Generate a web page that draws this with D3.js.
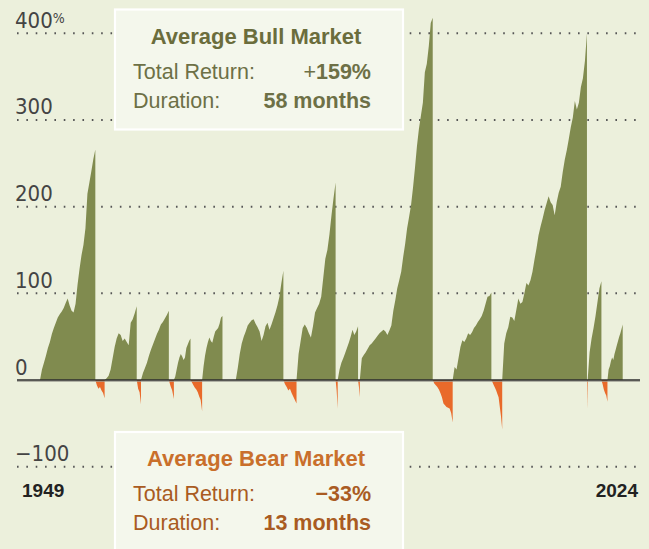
<!DOCTYPE html>
<html>
<head>
<meta charset="utf-8">
<script src="https://cdn.jsdelivr.net/npm/d3@7"></script>
<style>
  body { margin: 0; background: #ecf0dc; }
  svg { display: block; }
</style>
</head>
<body>
<div id="chart"></div>
<script>
// bull markets: start / end (decimal year), cumulative return (%) sampled evenly over each run
const bullStart = [1949.45, 1957.8, 1962.5, 1966.75, 1970.4, 1974.75, 1982.6, 1987.92, 1990.78, 2002.78, 2009.18, 2020.22, 2022.78];
const bullEnd   = [1956.6, 1961.95, 1966.1, 1968.9, 1973.03, 1980.9, 1987.65, 1990.55, 2000.2, 2007.78, 2020.13, 2022.0, 2024.75];
const bullValues = [
  [0, 12, 20, 28, 37, 44, 53, 60, 66, 72, 76, 79, 83, 89, 94, 86, 80, 78, 88, 110, 128, 144, 156, 175, 215, 228, 241, 255, 266],
  [0, 2, 5, 12, 25, 38, 48, 54, 52, 45, 48, 44, 40, 66, 70, 77, 85],
  [0, 8, 14, 20, 28, 35, 41, 47, 53, 58, 64, 67, 71, 75, 80],
  [0, 4, 12, 20, 26, 30, 27, 23, 26, 37, 41, 45, 48],
  [0, 16, 28, 37, 44, 49, 45, 43, 50, 56, 58, 60, 65, 72, 74],
  [0, 14, 30, 42, 50, 56, 63, 66, 69, 70, 65, 61, 56, 45, 52, 62, 66, 58, 64, 71, 78, 86, 96, 112, 126],
  [0, 30, 45, 60, 64, 60, 54, 49, 62, 78, 83, 88, 96, 118, 140, 150, 168, 190, 210, 228],
  [0, 12, 20, 25, 31, 37, 43, 50, 58, 52, 56, 62],
  [0, 25, 29, 32, 36, 40, 42, 45, 48, 51, 54, 56, 58, 56, 52, 57, 63, 80, 92, 106, 115, 125, 142, 157, 175, 188, 202, 222, 245, 270, 290, 305, 320, 355, 365, 385, 412, 418],
  [0, 15, 12, 25, 38, 46, 44, 48, 54, 52, 55, 60, 63, 67, 70, 74, 80, 88, 96, 97, 101],
  [0, 42, 54, 61, 73, 72, 68, 81, 94, 88, 90, 100, 112, 109, 115, 125, 139, 152, 167, 177, 186, 196, 204, 212, 205, 202, 190, 205, 216, 223, 240, 254, 265, 278, 292, 303, 322, 312, 320, 338, 348, 368, 400],
  [0, 32, 48, 60, 74, 90, 106, 114],
  [0, 12, 16, 22, 26, 23, 30, 35, 40, 45, 50, 54, 59, 64]
];

// bear markets (1973-74 is not drawn in the original)
const bearStart = [1956.6, 1961.95, 1966.1, 1968.9, 1980.9, 1987.65, 1990.55, 2000.2, 2007.78, 2020.13, 2022.0];
const bearEnd   = [1957.8, 1962.5, 1966.75, 1970.4, 1982.6, 1987.92, 1990.78, 2002.78, 2009.18, 2020.22, 2022.78];
const bearValues = [
  [0, -6, -10, -8, -12, -15, -21],
  [0, -10, -14, -28],
  [0, -7, -12, -22],
  [0, -3, -6, -9, -11, -14, -19, -23, -36],
  [0, -5, -8, -12, -10, -15, -19, -23, -27],
  [0, -12, -33],
  [0, -8, -20],
  [0, -4, -6, -8, -11, -15, -20, -27, -29, -31, -32, -33, -38, -49],
  [0, -3, -6, -9, -12, -16, -20, -31, -42, -57],
  [0, -34],
  [0, -5, -11, -15, -18, -25]
];

const gridTicks = [400, 300, 200, 100, -100];
const labelTicks = [400, 300, 200, 100, 0, -100];
const yearLabels = ["1949", "2024"];

const bullBox = { title: "Average Bull Market", ret: ["+", "159%"], dur: "58 months" };
const bearBox = { title: "Average Bear Market", ret: ["", "\u221233%"], dur: "13 months" };

const W = 649, H = 549;
const svg = d3.select("#chart").append("svg")
    .attr("width", W)
    .attr("height", H);

svg.append("rect").attr("width", W).attr("height", H).attr("fill", "#ecf0dc");

const x = d3.scaleLinear()
    .domain([1949.45, 2024.75])
    .range([40, 622.7]);

const y = d3.scaleLinear()
    .domain([-100, 400])
    .range([466.7, 33.3]);

const gridLeft = 17, gridRight = 640;

// dotted gridlines
svg.append("g")
  .selectAll("line")
  .data(gridTicks)
  .join("line")
    .attr("x1", gridLeft)
    .attr("x2", gridRight)
    .attr("y1", d => y(d))
    .attr("y2", d => y(d))
    .attr("stroke", "#555")
    .attr("stroke-width", 2)
    .attr("stroke-dasharray", "1.6,7.75");

// turn start/end/values into point lists
function toPoints(start, end, vals) {
  const n = vals.length - 1;
  return vals.map((v, i) => ({ t: start + (end - start) * i / n, v: v }));
}

const area = d3.area()
    .x(d => x(d.t))
    .y0(y(0))
    .y1(d => y(d.v));

const bulls = bullValues.map((vals, i) => toPoints(bullStart[i], bullEnd[i], vals));
const bears = bearValues.map((vals, i) => toPoints(bearStart[i], bearEnd[i], vals));

svg.append("g")
  .selectAll("path")
  .data(bulls)
  .join("path")
    .attr("d", area)
    .attr("fill", "#808b4f");

svg.append("g")
  .selectAll("path")
  .data(bears)
  .join("path")
    .attr("d", area)
    .attr("fill", "#e96a2a");

// zero line
svg.append("line")
    .attr("x1", gridLeft).attr("x2", gridRight)
    .attr("y1", y(0) + 1.2).attr("y2", y(0) + 1.2)
    .attr("stroke", "#9a9a90").attr("stroke-width", 1);
svg.append("line")
    .attr("x1", gridLeft).attr("x2", gridRight)
    .attr("y1", y(0)).attr("y2", y(0))
    .attr("stroke", "#2e2e2e").attr("stroke-width", 1.6);

// tick labels
const tl = svg.append("g")
    .attr("font-family", "'Liberation Sans Narrow', 'DejaVu Sans Condensed', sans-serif")
    .attr("font-size", 22)
    .attr("fill", "#444");

labelTicks.forEach(d => {
  const t = tl.append("text")
      .attr("x", 15)
      .attr("y", y(d) - 5.5)
      .text(d < 0 ? "\u2212" + Math.abs(d) : d);
  if (d === 400) t.append("tspan").attr("font-size", 14).attr("dy", -5).text("%");
});

// year labels
svg.append("g")
    .attr("font-family", "'Liberation Sans', Arial, sans-serif")
    .attr("font-weight", "bold")
    .attr("font-size", 19)
    .attr("fill", "#222")
  .selectAll("text")
  .data(yearLabels)
  .join("text")
    .attr("x", (d, i) => i === 0 ? 22 : 638)
    .attr("text-anchor", (d, i) => i === 0 ? "start" : "end")
    .attr("y", 497)
    .text(d => d);

// info boxes
function infoBox(b, top, titleColor, bodyColor) {
  const g = svg.append("g")
      .attr("font-family", "'Liberation Sans', Arial, sans-serif");
  g.append("rect")
      .attr("x", 115).attr("y", top)
      .attr("width", 288).attr("height", 120)
      .attr("fill", "#f4f7ec")
      .attr("stroke", "#ffffff")
      .attr("stroke-width", 2.2);
  g.append("text")
      .attr("x", 256).attr("y", top + 34)
      .attr("text-anchor", "middle")
      .attr("font-size", 22).attr("font-weight", "bold")
      .attr("fill", titleColor)
      .text(b.title);
  g.append("text")
      .attr("x", 133).attr("y", top + 69)
      .attr("font-size", 21.5).attr("fill", bodyColor)
      .text("Total Return:");
  const r = g.append("text")
      .attr("x", 371).attr("y", top + 69)
      .attr("text-anchor", "end")
      .attr("font-size", 21.5).attr("fill", bodyColor);
  if (b.ret[0]) r.append("tspan").text(b.ret[0]);
  r.append("tspan").attr("font-weight", "bold").text(b.ret[1]);
  g.append("text")
      .attr("x", 133).attr("y", top + 98)
      .attr("font-size", 21.5).attr("fill", bodyColor)
      .text("Duration:");
  g.append("text")
      .attr("x", 371).attr("y", top + 98)
      .attr("text-anchor", "end")
      .attr("font-size", 21.5).attr("font-weight", "bold")
      .attr("fill", bodyColor)
      .text(b.dur);
}

infoBox(bullBox, 9.5, "#6b6d3c", "#6d7046");
infoBox(bearBox, 432, "#c96f2b", "#a95b22");
</script>
</body>
</html>
